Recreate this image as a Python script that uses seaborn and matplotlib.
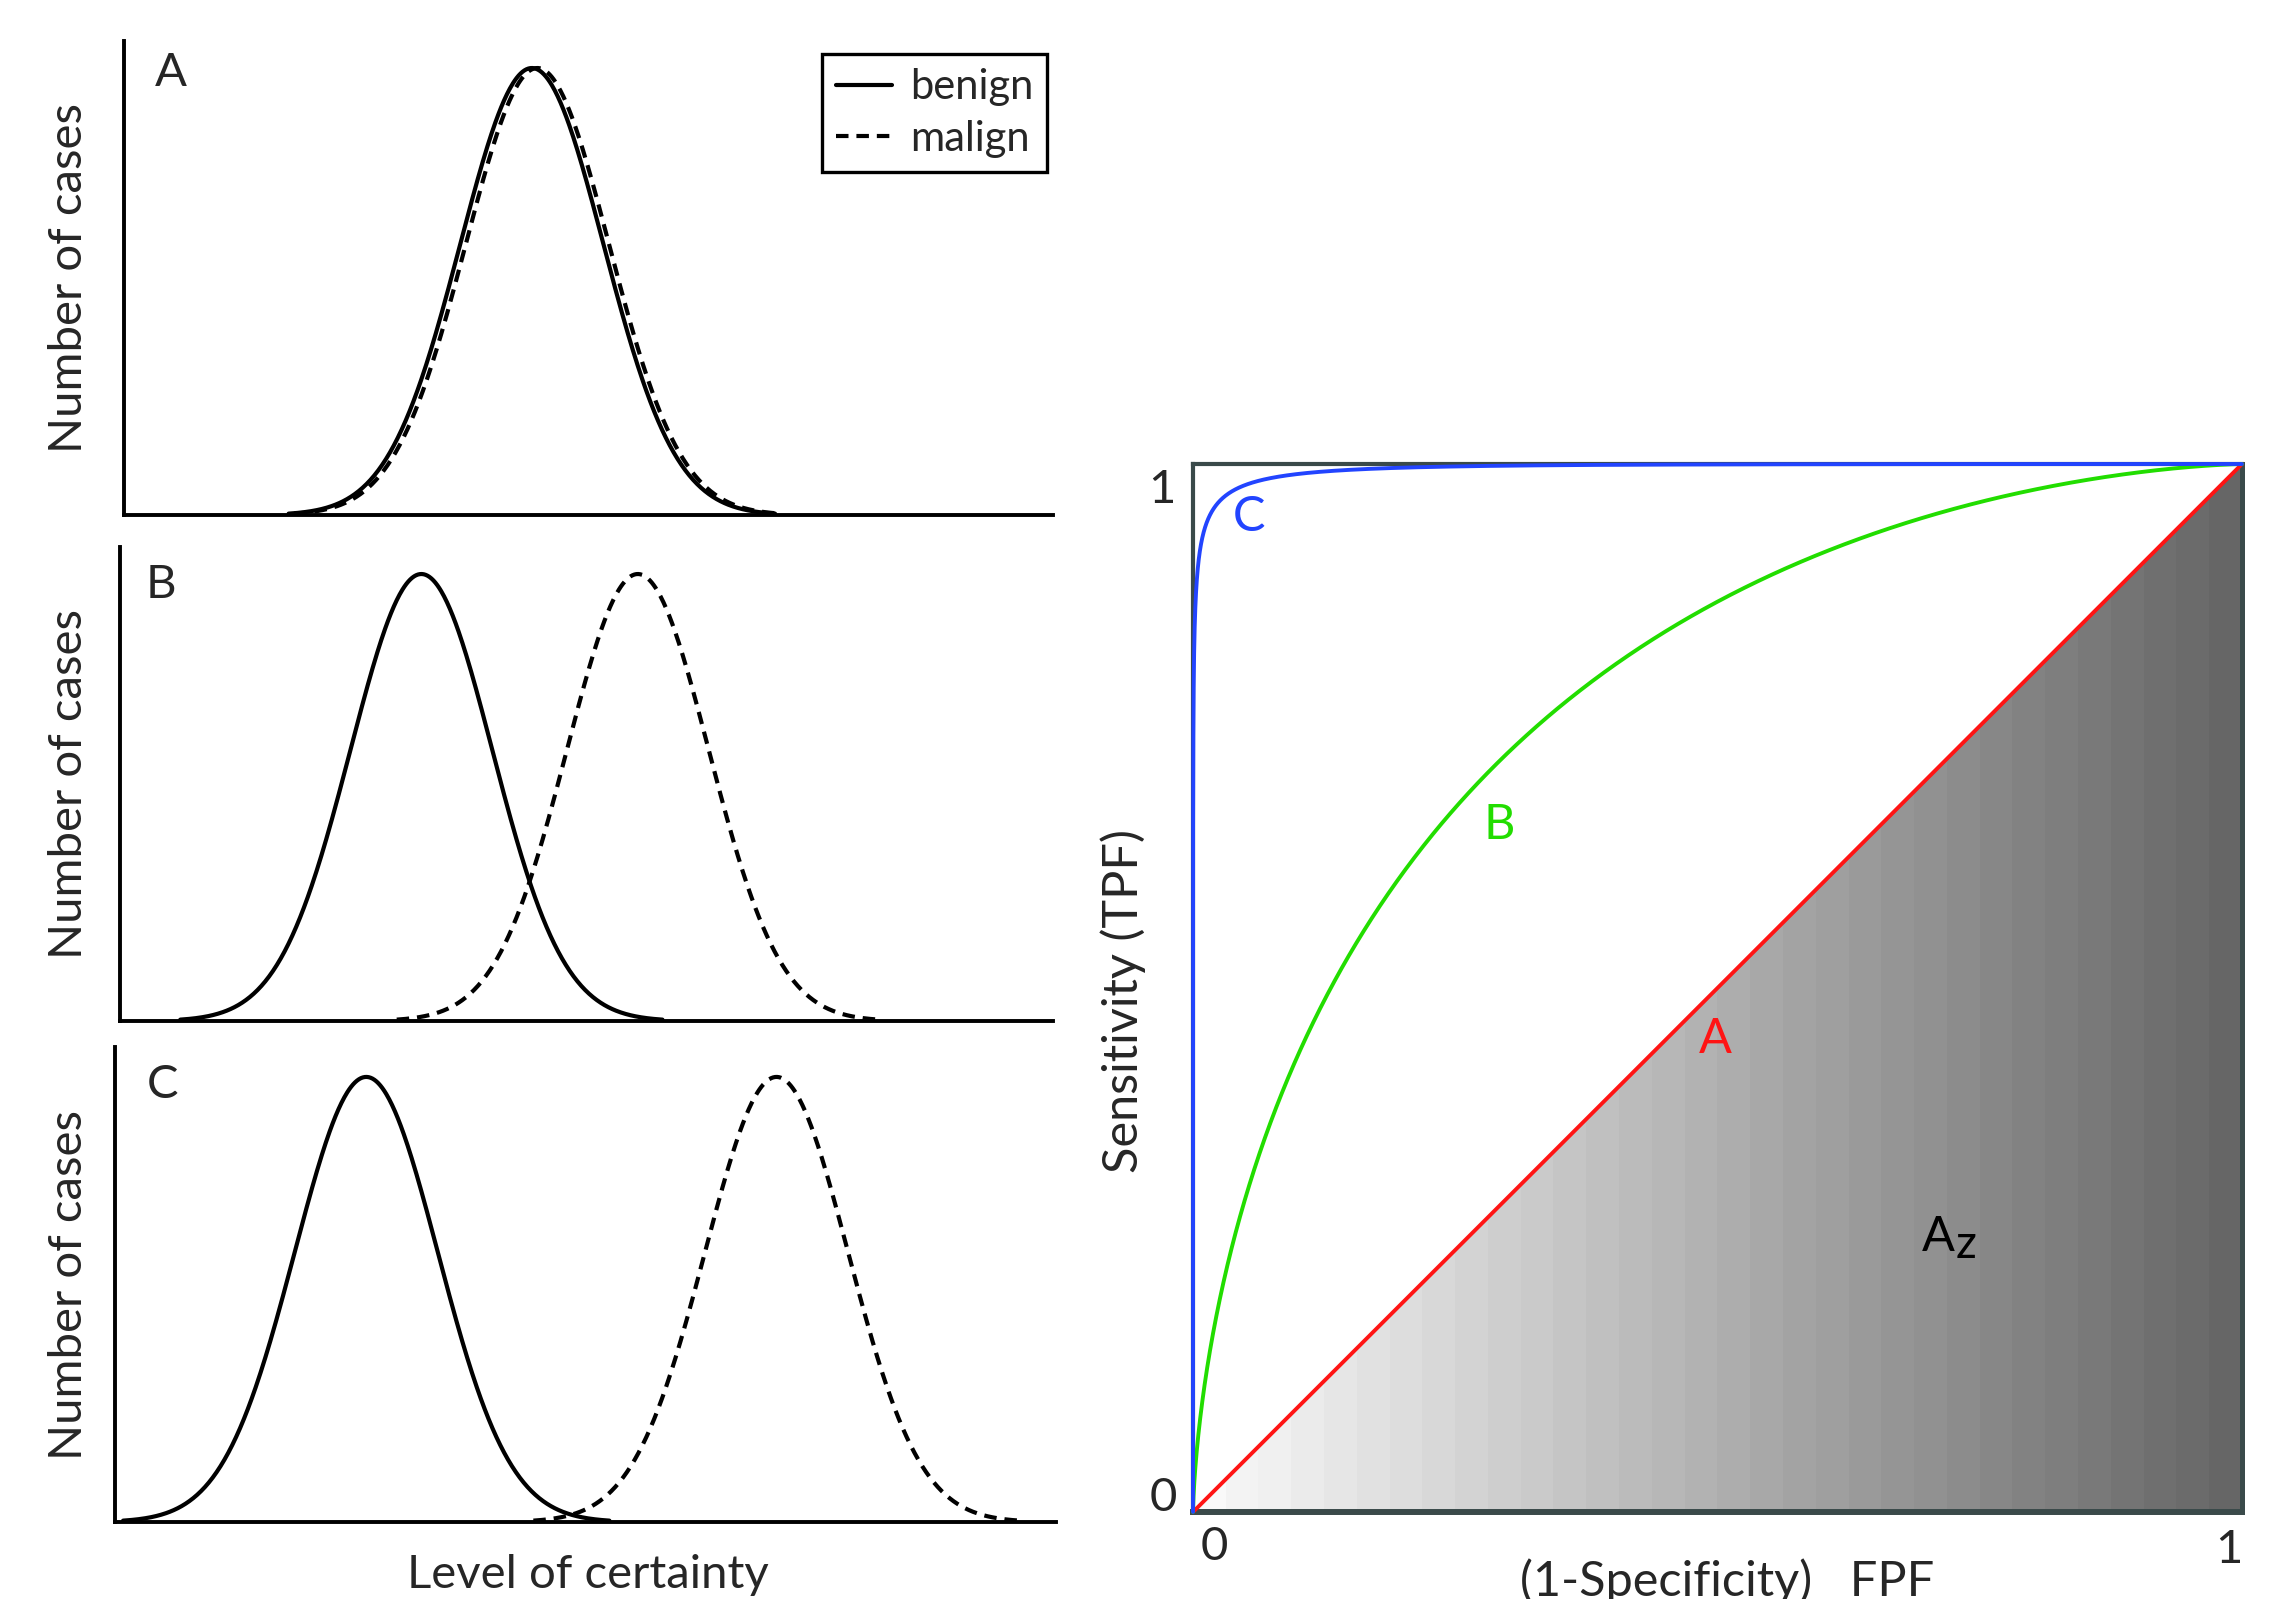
import math
import numpy as np
import pandas as pd
import matplotlib
matplotlib.use("Agg")
import matplotlib.pyplot as plt
from matplotlib.patches import Polygon
from matplotlib.lines import Line2D
import seaborn as sns

# ---------------- data ----------------
panel_names = ["A", "B", "C"]
benign_mean = [0.439, 0.323, 0.267]
malign_mean = [0.445, 0.555, 0.703]
benign_sd = [0.077, 0.076, 0.076]
malign_sd = [0.077, 0.076, 0.076]
peak_height = [0.943, 0.943, 0.937]
legend_labels = ["benign", "malign"]

roc_names = ["A", "B", "C"]
roc_separation = [0.0, 1.12, 3.37]
roc_slope = [1.0, 1.0, 0.80]
roc_colors = ["#ff1414", "#22dd00", "#2244ff"]
roc_tick_labels = ["0", "1"]

# ---------------- style ----------------
sns.set_style("white")
plt.rcParams["font.family"] = ["Lato", "DejaVu Sans"]

W, H = 2287, 1599
fig = plt.figure(figsize=(W / 100, H / 100), dpi=100)


def fx(px):
    return px / W


def fy(py):
    return 1 - py / H


def bell(mean, sd, height):
    x = np.linspace(mean - 3.4 * sd, mean + 3.4 * sd, 500)
    y = height * np.exp(-0.5 * ((x - mean) / sd) ** 2)
    return x, y


erfc = np.vectorize(math.erfc)


def roc_curve(a, b):
    # binormal ROC: threshold t on the benign (unit) scale
    t = np.linspace(-9, 9, 6000)
    fpf = 0.5 * erfc(t / math.sqrt(2))
    tpf = 0.5 * erfc((b * t - a) / math.sqrt(2))
    return fpf[::-1], tpf[::-1]


# ---------------- distribution panels ----------------
dist_rects = [
    (124, 41, 1053, 515),
    (120, 547, 1053, 1021),
    (115, 1047, 1056, 1522),
]
letter_pos = [(155, 86), (146, 598), (147, 1098)]
LW = 3.0
DASH = (0, (3.0, 1.9))

for i, name in enumerate(panel_names):
    l, t, r, b = dist_rects[i]
    ax = fig.add_axes([fx(l), fy(b), fx(r - l), (b - t) / H])
    xb, yb = bell(benign_mean[i], benign_sd[i], peak_height[i])
    xm, ym = bell(malign_mean[i], malign_sd[i], peak_height[i])
    df = pd.concat([
        pd.DataFrame({"x": xb, "y": yb, "kind": "benign"}),
        pd.DataFrame({"x": xm, "y": ym, "kind": "malign"}),
    ])
    sns.lineplot(data=df[df.kind == "benign"], x="x", y="y", ax=ax,
                 color="black", lw=LW, sort=False, estimator=None, legend=False)
    sns.lineplot(data=df[df.kind == "malign"], x="x", y="y", ax=ax,
                 color="black", lw=LW, linestyle=DASH, sort=False,
                 estimator=None, legend=False)
    ax.set_xlim(0, 1)
    ax.set_ylim(0, 1)
    ax.set_xticks([])
    ax.set_yticks([])
    ax.set_xlabel("")
    ax.set_ylabel("")
    for s in ["top", "right"]:
        ax.spines[s].set_visible(False)
    for s in ["left", "bottom"]:
        ax.spines[s].set_color("black")
        ax.spines[s].set_linewidth(2.8)
    ax.patch.set_alpha(0)
    fig.text(fx(69), fy((t + b) / 2), "Number of cases", rotation=90,
             ha="center", va="center", fontsize=34)
    lx, ly = letter_pos[i]
    fig.text(fx(lx), fy(ly), name, ha="left", va="baseline", fontsize=34)
    if i == 0:
        handles = [Line2D([], [], color="black", lw=LW),
                   Line2D([], [], color="black", lw=LW, linestyle=DASH)]
        leg = ax.legend(handles, legend_labels, loc="upper left",
                        bbox_to_anchor=(fx(822), fy(54)),
                        bbox_transform=fig.transFigure, frameon=True,
                        fancybox=False, edgecolor="black", framealpha=1,
                        borderaxespad=0, handlelength=1.35, handletextpad=0.42,
                        borderpad=0.34, labelspacing=0.32, fontsize=30)
        leg.get_frame().set_linewidth(2.4)

fig.text(fx(588), fy(1588), "Level of certainty", ha="center",
         va="baseline", fontsize=34)

# ---------------- ROC panel ----------------
rl, rt, rr, rb = 1193, 464, 2242, 1512
ax = fig.add_axes([fx(rl), fy(rb), fx(rr - rl), (rb - rt) / H])
ax.set_xlim(0, 1)
ax.set_ylim(0, 1)

# stepped grey gradient under the chance line
n_bands = 32
shade = np.linspace(0.975, 0.40, n_bands).reshape(1, -1)
im = ax.imshow(shade, cmap="gray", vmin=0, vmax=1, extent=(0, 1, 0, 1),
               aspect="auto", interpolation="nearest", origin="lower", zorder=1)
tri = Polygon([(0, 0), (1, 0), (1, 1)], closed=True, transform=ax.transData,
              facecolor="none", edgecolor="none")
ax.add_patch(tri)
im.set_clip_path(tri)

for name, a, bb, c in zip(roc_names, roc_separation, roc_slope, roc_colors):
    fpf, tpf = roc_curve(a, bb)
    rdf = pd.DataFrame({"FPF": fpf, "TPF": tpf})
    sns.lineplot(data=rdf, x="FPF", y="TPF", ax=ax, color=c, lw=2.8,
                 sort=False, estimator=None, legend=False, zorder=4,
                 clip_on=False)

ax.set_xticks([])
ax.set_yticks([])
ax.set_xlabel("")
ax.set_ylabel("")
frame = "#3a4a4a"
for s, w in [("top", 3.0), ("left", 3.0), ("bottom", 4.3), ("right", 3.6)]:
    ax.spines[s].set_visible(True)
    ax.spines[s].set_color(frame)
    ax.spines[s].set_linewidth(w)

ax.text(0.038, 0.936, "C", color=roc_colors[2], fontsize=35, ha="left", va="baseline")
ax.text(0.2765, 0.642, "B", color=roc_colors[1], fontsize=35, ha="left", va="baseline")
ax.text(0.482, 0.438, "A", color=roc_colors[0], fontsize=35, ha="left", va="baseline")
ax.text(0.695, 0.249, "A", color="black", fontsize=35, ha="left", va="baseline")
ax.text(0.727, 0.242, "z", color="black", fontsize=33, ha="left", va="baseline")

fig.text(fx(1162), fy(503), roc_tick_labels[1], ha="center", va="baseline", fontsize=34)
fig.text(fx(1163), fy(1511), roc_tick_labels[0], ha="center", va="baseline", fontsize=34)
fig.text(fx(1214), fy(1560), roc_tick_labels[0], ha="center", va="baseline", fontsize=34)
fig.text(fx(2229), fy(1563), roc_tick_labels[1], ha="center", va="baseline", fontsize=34)

fig.text(fx(1727), fy(1596), "(1-Specificity)   FPF", ha="center",
         va="baseline", fontsize=35)
fig.text(fx(1123), fy(1001), "Sensitivity (TPF)", rotation=90, ha="center",
         va="center", fontsize=35)

fig.savefig("out.png", dpi=100)
